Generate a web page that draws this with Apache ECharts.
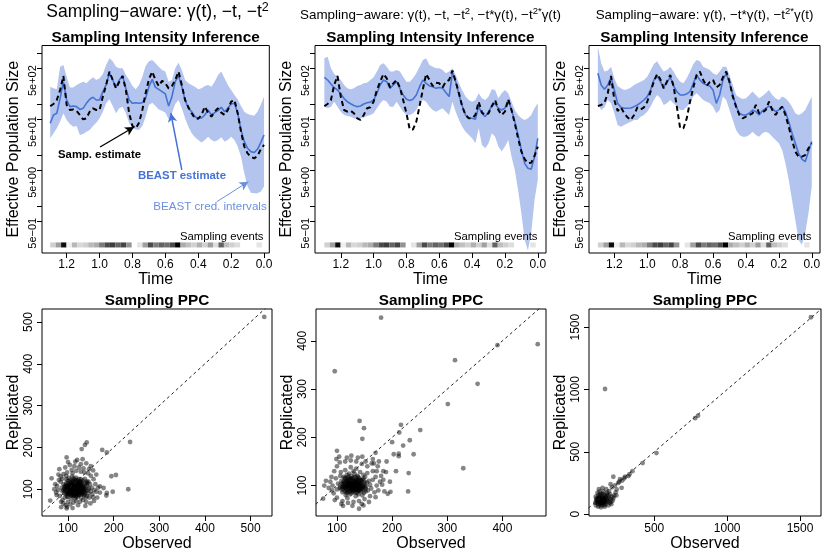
<!DOCTYPE html>
<html><head><meta charset="utf-8">
<script src="https://cdn.jsdelivr.net/npm/echarts@6.0.0/dist/echarts.min.js"></script>
<style>html,body{margin:0;padding:0;background:#fff}#c{width:830px;height:554px}</style>
</head><body><div id="c"></div>
<script>
// ---------------- DATA ----------------
const timeGrid = [1.30,1.28,1.26,1.24,1.22,1.20,1.18,1.16,1.14,1.12,1.10,1.08,1.06,1.04,1.02,1.00,0.98,0.96,0.94,0.92,0.90,0.88,0.86,0.84,0.82,0.80,0.78,0.76,0.74,0.72,0.70,0.68,0.66,0.64,0.62,0.60,0.58,0.56,0.54,0.52,0.50,0.48,0.46,0.44,0.42,0.40,0.38,0.36,0.34,0.32,0.30,0.28,0.26,0.24,0.22,0.20,0.18,0.16,0.14,0.12,0.10,0.08,0.06,0.04,0.02,0.00];

const p1Median = [42.1,61.4,66.2,131,277,121,89.5,92,89.5,79,83,104,125,137,121,121,177,239,418,299,214,299,359,205,121,104,107,104,107,131,221,308,214,196,177,159,92,141,277,359,221,121,83,71.4,56.9,52.8,53.5,61.4,76.9,61.4,68.3,74.6,86.9,71.4,83,101,104,66.2,31.1,18.4,13.6,11.7,11.2,13.0,17.6,24.8];
const p1Samp = [92,101,121,190,359,96.6,76.9,79,74.6,61.4,50.5,52.8,71.4,83,76.9,76.9,141,239,437,299,205,277,359,190,66.2,37.3,33.6,43.4,76.9,164,308,437,299,228,290,257,205,228,299,437,239,121,86.9,66.2,52.8,52,61.4,89.5,68.3,56.9,71.4,83,68.3,61.4,76.9,112,121,66.2,28.9,14.7,10.8,9.3,8.6,9.6,13.0,15.8];
const p1Upper = [221,205,196,547,590,348,214,214,239,257,277,257,299,337,299,323,393,590,798,700,547,509,509,375,299,228,196,239,348,563,700,740,635,547,471,437,277,299,509,650,471,299,257,239,221,196,205,228,239,221,277,375,437,323,239,190,152,125,92,71.4,64,61.4,59,71.4,96.6,141];
const p1Lower = [21.4,26.8,33.6,45.4,66.2,49,40.8,36.2,37.3,24.8,25.9,28.9,31.1,37.3,43.4,52.8,71.4,104,125,92,66.2,83,89.5,66.2,42.1,34.6,32,31.1,37.3,56.9,96.6,107,92,79,74.6,68.3,50.5,66.2,101,121,83,52.8,36.2,26.8,22.3,19.8,17.6,19.8,23,19.8,18.4,19.8,22.3,18.4,19.8,23,19.8,14.7,9.3,4.39,2.4,1.82,1.77,1.77,1.9,2.4];

const p2Median = [338,299,250,211,190,159,129,112,102,94,89.5,92,101,107,110,121,164,239,299,277,205,239,277,205,152,125,118,125,152,221,299,257,228,221,205,214,205,169,141,418,277,152,92,61.4,52.8,52.8,50.5,89.5,66.2,56.9,71.4,92,104,83,76.9,83,121,76.9,45.4,24.8,12.6,6.89,5.5,5.25,9.3,21.4];
const p2Samp = [92,101,121,239,359,141,76.9,71.4,74.6,66.2,52.8,49,61.4,83,86.9,112,190,277,393,323,214,257,299,214,121,66.2,32,32,45.4,92,196,393,299,228,265,257,214,277,299,458,277,164,89.5,61.4,52.8,52.8,61.4,112,68.3,61.4,66.2,92,121,76.9,61.4,71.4,125,76.9,42.1,21.4,11.7,8.3,6.9,7.1,9.6,14.7];
const p2Upper = [798,860,509,393,348,299,239,205,196,205,228,239,257,265,299,337,437,590,635,547,437,437,471,437,348,277,277,323,405,547,740,798,590,547,509,509,471,405,437,509,375,257,185,141,121,112,121,164,131,121,141,196,190,131,164,190,164,112,76.9,61.4,52.8,49,52.8,61.4,83,104];
const p2Lower = [89.5,83,89.5,112,89.5,71.4,61.4,58.7,56.9,52.8,50.5,52.8,55.2,58.7,61.4,66.2,83,104,121,112,89.5,89.5,112,89.5,71.4,61.4,61.4,66.2,76.9,104,121,112,89.5,76.9,71.4,76.9,83,71.4,61.4,112,71.4,49,36.2,28.9,24.8,21.4,17,33.6,15.8,13.6,17,26.8,23,14.7,11.7,14.7,19.8,9.3,5.1,2.06,0.72,0.215,0.133,0.29,1.31,3.24];

const p3Median = [405,239,196,239,337,190,104,86.9,83,83,84.2,89.5,96.6,107,121,141,190,299,359,277,214,277,337,228,177,152,152,159,177,257,375,299,257,239,228,190,104,152,299,405,265,152,92,66.2,61.4,61.4,66.2,76.9,71.4,61.4,74.6,83,92,83,71.4,76.9,89.5,71.4,45.4,26.8,17,10.8,8.3,7.4,11.7,18.4];
const p3Samp = [92,96.6,107,164,359,121,73.5,86.9,66.2,55.2,49,61.4,86.9,79,86.9,112,177,277,393,308,205,277,375,228,89.5,33.6,33.6,52.8,112,214,375,437,299,228,272,299,214,239,337,437,277,141,89.5,61.4,52.8,56.9,61.4,66.2,96.6,66.2,68.3,76.9,112,76.9,61.4,76.9,89.5,61.4,36.2,19.8,11.7,9.3,9.3,10,13.6,17];
const p3Upper = [1352,635,437,458,547,323,228,205,190,196,214,239,257,277,299,348,458,615,700,547,437,471,547,437,337,277,257,323,437,615,740,700,547,509,471,405,375,437,547,547,375,239,152,135,127,131,152,177,152,131,145,164,190,152,131,121,141,131,112,89.5,66.2,61.4,66.2,76.9,104,141];
const p3Lower = [104,76.9,86.9,121,104,66.2,39.1,36.2,39.1,42.1,45.4,49,49,56.9,61.4,71.4,89.5,121,152,131,96.6,104,121,104,89.5,76.9,76.9,89.5,104,141,164,141,121,112,104,89.5,66.2,76.9,141,121,76.9,49,31.1,24.8,23,23,24.8,28.9,24.8,23,26.8,28.9,26.8,23,19.8,17,12.6,6.89,3.24,1.31,0.53,0.215,0.172,0.29,0.72,2.4];

// sampling-event intensity per time bin (bins start at 1.30, width 0.033, going to 0)
const samplingStart = 1.30;
const samplingBinWidth = 0.033;
const samplingIntensity = [0.15,0.35,0.95,0.03,0.25,0.12,0.15,0.25,0.3,0.5,0.7,0.75,0.6,0.72,0.4,0,0.07,0.35,0.7,0.5,0.6,0.55,0.7,1.0,0.3,0.22,0.15,0.28,0.15,0.35,0.1,0.6,0.22,0.15,0.1,0,0,0,0.07,0];

const timeTicks = [0,0.2,0.4,0.6,0.8,1.0,1.2];
const neTicks = [0.5,1,5,10,50,100,500,1000];
const neLabelValues = [0.5,5,50,500];
const neLabelTexts = ['5e\u221201','5e+00','5e+01','5e+02'];

// PPC scatter: [observed, replicated]
const ppc1 = [
[88,95],[92,101],[95,88],[97,110],[99,97],[101,104],[103,92],[104,118],[106,99],[107,86],
[108,108],[109,95],[110,102],[111,114],[112,90],[113,100],[114,123],[115,96],[116,107],[117,84],
[118,111],[119,99],[120,93],[121,116],[122,103],[123,88],[124,108],[125,97],[126,119],[127,91],
[128,104],[130,99],[131,112],[133,94],[134,106],[136,101],[138,115],[140,96],[142,108],[144,90],
[90,112],[93,80],[96,124],[98,90],[100,82],[102,127],[105,110],[107,76],[109,130],[111,84],
[113,109],[115,78],[117,128],[119,105],[121,82],[123,125],[125,86],[127,112],[129,79],[132,121],
[135,85],[137,125],[139,80],[141,119],[146,102],[148,112],[150,95],[152,104],[86,103],[84,118],
[100,114],[104,100],[108,92],[112,118],[116,98],[120,121],[124,94],[128,117],[103,106],[118,89],
[94,96],[106,105],[111,97],[114,88],[122,96],[126,106],[131,89],[98,104],[109,118],[119,114],
[101,98],[105,93],[109,103],[113,94],[117,101],[121,99],[125,103],[129,96],[104,111],[108,87],
[112,106],[116,113],[120,88],[124,115],[96,99],[100,107],[103,95],[107,115],[110,91],[114,101],
[118,94],[122,110],[126,92],[130,106],[95,106],[99,120],[102,88],[106,102],[110,109],[114,97],
[118,118],[122,91],[126,113],[130,103],[134,97],[92,91],[97,103],[101,93],[105,98],[109,111],
[113,86],[117,96],[121,106],[125,94],[129,109],[133,100],[137,92],[115,110],[111,99],[107,96],
[100,100],[104,104],[108,98],[112,102],[116,95],[120,104],[124,100],[128,93],[132,108],[136,96],
[98,94],[102,110],[106,90],[110,106],[114,92],[118,106],[122,98],[126,110],[130,92],[134,104],
[96,114],[100,88],[104,122],[108,84],[112,126],[116,88],[120,112],[124,86],[128,124],[132,88],
[94,108],[98,82],[102,100],[106,94],[110,120],[114,108],[118,82],[122,120],[126,102],[130,118],
[138,104],[140,112],[136,88],[92,106],[90,98],[144,98],[142,116],[116,120],[106,112],[120,96],
[78,98],[80,122],[82,84],[76,108],[74,92],[79,135],[85,70],[90,66],[95,62],[100,70],
[105,64],[112,68],[118,72],[126,70],[133,74],[140,70],[147,80],[153,88],[158,98],[160,112],
[156,124],[150,132],[144,138],[136,140],[128,142],[118,144],[108,146],[98,140],[90,136],[84,130],
[94,152],[104,158],[114,155],[124,152],[134,150],[146,148],[162,135],[166,104],[170,92],[164,80],
[157,72],[149,66],[138,60],[122,62],[98,58],[88,74],[72,112],[70,100],[75,86],[81,148],
[128,160],[140,162],[116,166],[132,172],[155,145],[145,118],[142,84],[110,138],[96,132],[87,125],
[530,512],[236,213],[232,100],[205,134],[185,188],[175,194],[141,212],[137,206],[97,176],[130,196],
[195,131],[185,91],[198,94],[184,85],[170,107],[64,126],[61,73],[97,54],[110,55],[85,57],
[178,103],[162,94],[155,81],[120,170],[100,165],[150,155]];
const ppc2 = [
[105,95],[110,102],[114,88],[118,110],[120,97],[123,105],[125,92],[127,115],[129,100],[131,86],
[133,108],[135,96],[137,120],[139,90],[141,104],[143,112],[145,94],[147,100],[149,85],[151,118],
[112,118],[116,80],[122,125],[126,84],[130,130],[134,78],[138,105],[142,128],[146,80],[150,108],
[108,110],[113,97],[117,90],[121,113],[124,99],[128,92],[132,118],[136,102],[140,95],[144,110],
[102,104],[106,120],[110,86],[119,74],[123,88],[127,104],[131,96],[135,114],[139,82],[148,122],
[153,98],[156,90],[158,110],[160,102],[115,132],[125,138],[135,135],[100,92],[98,115],[155,126],
[107,128],[118,122],[129,110],[140,116],[152,88],[162,94],[165,112],[111,93],[120,106],[133,91],
[115,104],[126,96],[137,99],[144,88],[118,98],[130,104],[142,96],[124,112],
[115,96],[119,103],[123,94],[127,101],[131,108],[135,99],[139,104],[143,97],[117,112],[121,88],
[125,108],[129,116],[133,92],[137,110],[141,89],[113,106],[117,99],[121,92],[125,114],[129,97],
[133,103],[137,85],[141,112],[145,103],[120,118],[124,82],[128,106],[132,124],[136,93],[140,100],
[110,97],[114,115],[118,87],[122,101],[126,99],[130,91],[134,110],[138,96],[142,104],[146,95],
[112,100],[116,108],[120,100],[124,104],[128,98],[132,100],[136,106],[150,98],[154,106],[148,92],
[120,102],[124,96],[128,104],[132,96],[136,112],[140,92],[144,106],[116,94],[112,108],[122,116],
[126,90],[130,110],[134,86],[138,118],[142,100],[146,112],[118,84],[114,96],[110,104],[126,120],
[130,98],[134,102],[138,90],[122,106],[118,100],[150,104],[152,94],[106,98],[108,92],[148,114],
[127,95],[131,101],[135,93],[123,99],[119,108],[115,116],[139,108],[143,92],[147,98],[129,88],
[92,100],[90,118],[95,130],[100,140],[105,148],[115,150],[125,152],[135,150],[145,145],[155,140],
[165,130],[170,118],[172,100],[168,86],[160,78],[150,72],[140,68],[130,66],[120,64],[110,68],
[100,75],[94,84],[96,70],[108,62],[128,58],[145,62],[158,66],[175,90],[178,108],[174,140],
[88,108],[91,90],[99,155],[118,158],[138,158],[152,150],[163,146],[170,76],[180,120],[182,102],
[186,88],[184,130],[176,150],[146,160],[126,162],[104,160],[85,95],[80,110],
[180,448],[96,337],[464,393],[391,391],[314,360],[355,311],[301,269],[329,136],[141,234],[149,219],
[146,197],[216,226],[251,215],[213,210],[232,194],[200,190],[220,183],[203,165],[212,166],[212,161],
[239,165],[230,126],[229,88],[207,130],[197,87],[192,83],[184,112],[189,128],[172,130],[167,146],
[100,172],[77,100],[75,73],[140,52],[148,59],[111,58],[165,155],[170,168],[196,108],[190,150]];
const ppc3 = [
[110,100],[115,112],[120,95],[125,120],[128,105],[132,90],[135,115],[138,100],[140,128],[143,92],
[146,110],[150,102],[153,125],[156,88],[160,115],[164,100],[168,130],[172,95],[176,110],[180,120],
[112,130],[118,80],[124,140],[130,70],[136,150],[142,75],[148,140],[154,72],[160,145],[166,78],
[105,115],[108,88],[122,108],[134,96],[146,122],[158,106],[170,140],[185,100],[190,130],[195,90],
[100,105],[102,125],[116,150],[128,160],[140,165],[152,160],[174,155],[186,150],[200,120],[205,100],
[120,110],[125,100],[130,112],[135,105],[140,108],[145,100],[130,95],[135,125],[125,118],[140,118],
[120,125],[150,115],[155,105],[115,100],[125,130],[145,130],[130,85],[140,90],[150,90],[160,125],
[95,90],[98,140],[110,170],[125,180],[150,180],[175,170],[195,160],[210,140],[215,110],[205,80],
[185,70],[160,60],[135,55],[115,60],[100,70],[120,200],[145,210],[170,200],[190,185],[225,150],
[1575,1580],[162,1004],[800,790],[780,770],[515,490],[420,410],[350,345],[323,305],[294,288],[265,281],
[219,300],[253,251],[276,211],[242,198],[230,230],[260,260],[300,300],[235,175],[240,150],[220,130],
[210,215],[200,240],[330,320],[280,270]];
const ppcXTicks = [[100,200,300,400,500],[100,200,300,400],[500,1000,1500]];
const ppcYTicks = [[100,200,300,400,500],[100,200,300,400],[0,500,1000,1500]];

// annotation arrows in panel 1: [tailTime, tailNe, headTime, headNe]
const arrowSamp = [0.997, 14.4, 0.790, 35.7];
const arrowBeast = [0.500, 5.1, 0.567, 67.2];
const arrowCred = [0.2875, 1.21, 0.0954, 3.0];

// ---------------- LAYOUT / STYLE ----------------
const FONT = '"Liberation Sans", Arial, Helvetica, sans-serif';
const BLUE = '#4673d6', BAND = '#b3c4ee', BLUE_LIGHT = '#6a90e0';
const topGrids = [{left:42,width:227.3},{left:315,width:231},{left:589,width:231}];
const botGrids = [{left:42,width:230},{left:316,width:230},{left:589,width:232}];
const TOP_Y = 45.5, TOP_H = 207.5, BOT_Y = 309, BOT_H = 207;
const topXRanges = [[-0.032,1.35],[-0.05,1.357],[-0.05,1.354]];
const neRange = [0.119, 1425];
const ppcXRanges = [[43,547],[62,479],[52,1644]];
const ppcYRanges = [[36,531],[37,466],[-15,1646]];
const stripTop = 0.192, stripBottom = 0.153, stripMid = 0.171;

const panels = [
  {med:p1Median, samp:p1Samp, up:p1Upper, lo:p1Lower},
  {med:p2Median, samp:p2Samp, up:p2Upper, lo:p2Lower},
  {med:p3Median, samp:p3Samp, up:p3Upper, lo:p3Lower}
];
const ppcs = [ppc1, ppc2, ppc3];

const grids = [];
topGrids.forEach(g => grids.push({left:g.left, top:TOP_Y, width:g.width, height:TOP_H, show:true, borderColor:'#000', borderWidth:1, backgroundColor:'transparent', containLabel:false, outerBoundsMode:'none'}));
botGrids.forEach(g => grids.push({left:g.left, top:BOT_Y, width:g.width, height:BOT_H, show:true, borderColor:'#000', borderWidth:1, backgroundColor:'transparent', containLabel:false, outerBoundsMode:'none'}));

function neLabel(v) {
  let idx = neLabelValues.findIndex(x => Math.abs(x - v) < 1e-6 * x);
  if (idx < 0) idx = neLabelValues.findIndex(x => Math.abs(Math.log10(x) - v) < 1e-6);
  return idx >= 0 ? neLabelTexts[idx] : '';
}

const tickStyle = {show:true, length:5, inside:false, lineStyle:{color:'#000', width:1}};
const noLine = {show:false, onZero:false};
const xAxes = [], yAxes = [];
for (let k = 0; k < 3; k++) {
  xAxes.push({type:'value', gridIndex:k, position:'bottom', inverse:true, min:topXRanges[k][0], max:topXRanges[k][1],
    axisLine:noLine, splitLine:{show:false},
    axisTick:Object.assign({customValues:timeTicks}, tickStyle),
    axisLabel:{customValues:timeTicks, formatter:v => Number(v).toFixed(1), color:'#000', fontFamily:FONT, fontSize:12, margin:6},
    name:'Time', nameLocation:'middle', nameGap:16, nameTextStyle:{color:'#000', fontFamily:FONT, fontSize:16}});
  yAxes.push({type:'log', logBase:10, gridIndex:k, position:'left', min:neRange[0], max:neRange[1],
    axisLine:noLine, splitLine:{show:false}, minorTick:{show:false},
    axisTick:Object.assign({customValues:neTicks}, tickStyle),
    axisLabel:{show:true, customValues:neLabelValues, formatter:neLabel, rotate:90, margin:4, padding:[0,24,0,0], color:'#000', fontFamily:FONT, fontSize:11},
    name:'Effective Population Size', nameLocation:'middle', nameGap:20, nameTextStyle:{color:'#000', fontFamily:FONT, fontSize:16}});
}
for (let k = 0; k < 3; k++) {
  xAxes.push({type:'value', gridIndex:3+k, position:'bottom', min:ppcXRanges[k][0], max:ppcXRanges[k][1],
    axisLine:noLine, splitLine:{show:false},
    axisTick:Object.assign({customValues:ppcXTicks[k]}, tickStyle),
    axisLabel:{customValues:ppcXTicks[k], formatter:v => String(v), color:'#000', fontFamily:FONT, fontSize:12, margin:7},
    name:'Observed', nameLocation:'middle', nameGap:20, nameTextStyle:{color:'#000', fontFamily:FONT, fontSize:16}});
  yAxes.push({type:'value', gridIndex:3+k, position:'left', min:ppcYRanges[k][0], max:ppcYRanges[k][1],
    axisLine:noLine, splitLine:{show:false},
    axisTick:Object.assign({customValues:ppcYTicks[k]}, tickStyle),
    axisLabel:{customValues:ppcYTicks[k], formatter:v => String(v), rotate:90, color:'#000', fontFamily:FONT, fontSize:12, margin:7},
    name:'Replicated', nameLocation:'middle', nameGap:20, nameTextStyle:{color:'#000', fontFamily:FONT, fontSize:16}});
}

function gray(v){ const l = Math.round(245*(1-v)); return 'rgb('+l+','+l+','+l+')'; }

const series = [];
panels.forEach((p, k) => {
  series.push({type:'custom', xAxisIndex:k, yAxisIndex:k, silent:true, z:1,
    data: samplingIntensity.map((v, i) => [samplingStart - (i + 0.5) * samplingBinWidth, stripMid]),
    renderItem: (params, api) => {
      const v = samplingIntensity[params.dataIndex];
      if (v <= 0) return null;
      const t0 = samplingStart - params.dataIndex * samplingBinWidth;
      const a = api.coord([t0, stripTop]);
      const b = api.coord([t0 - samplingBinWidth, stripBottom]);
      return {type:'rect', shape:{x:Math.min(a[0],b[0]), y:Math.min(a[1],b[1]), width:Math.abs(b[0]-a[0]), height:Math.abs(b[1]-a[1])}, style:{fill:gray(v)}};
    }});
  series.push({type:'custom', xAxisIndex:k, yAxisIndex:k, silent:true, z:2, clip:true,
    data: timeGrid.map((t, i) => [t, p.up[i]]),
    renderItem: (params, api) => {
      if (params.dataIndex !== 0) return null;
      const pts = [];
      for (let i = 0; i < timeGrid.length; i++) pts.push(api.coord([timeGrid[i], p.up[i]]));
      for (let i = timeGrid.length - 1; i >= 0; i--) pts.push(api.coord([timeGrid[i], p.lo[i]]));
      return {type:'polygon', shape:{points:pts}, style:{fill:BAND}};
    }});
  const med = {type:'line', xAxisIndex:k, yAxisIndex:k, silent:true, z:3, symbol:'none', showSymbol:false,
    data: timeGrid.map((t, i) => [t, p.med[i]]), lineStyle:{color:BLUE, width:1.6}};
  if (k === 0) {
    med.markLine = {silent:true, symbol:['none','arrow'], symbolSize:[7,9], label:{show:false}, animation:false,
      data:[
        [{coord:[arrowSamp[0], arrowSamp[1]], lineStyle:{color:'#000', width:1.3, type:'solid'}, itemStyle:{color:'#000'}}, {coord:[arrowSamp[2], arrowSamp[3]]}],
        [{coord:[arrowBeast[0], arrowBeast[1]], lineStyle:{color:BLUE, width:1.5, type:'solid'}, itemStyle:{color:BLUE}}, {coord:[arrowBeast[2], arrowBeast[3]]}],
        [{coord:[arrowCred[0], arrowCred[1]], lineStyle:{color:BLUE_LIGHT, width:1, type:'solid'}, itemStyle:{color:BLUE_LIGHT}}, {coord:[arrowCred[2], arrowCred[3]]}]
      ]};
  }
  series.push(med);
  series.push({type:'line', xAxisIndex:k, yAxisIndex:k, silent:true, z:4, symbol:'none', showSymbol:false,
    data: timeGrid.map((t, i) => [t, p.samp[i]]), lineStyle:{color:'#000', width:2, type:[5,3.5]}});
});
ppcs.forEach((d, k) => {
  series.push({type:'scatter', xAxisIndex:3+k, yAxisIndex:3+k, silent:true, z:2, symbolSize:4.8,
    data:d, itemStyle:{color:'rgba(0,0,0,0.6)'}});
  const lo = Math.min(ppcXRanges[k][0], ppcYRanges[k][0]), hi = Math.max(ppcXRanges[k][1], ppcYRanges[k][1]);
  series.push({type:'line', xAxisIndex:3+k, yAxisIndex:3+k, silent:true, z:3, symbol:'none', clip:true,
    data:[[lo, lo],[hi, hi]], lineStyle:{color:'#222', width:1, type:[3,3]}});
});

function txt(x, y, text, size, opts) {
  opts = opts || {};
  return {type:'text', x:x, y:y, silent:true, z:100,
    style:Object.assign({text:text, fill:opts.fill || '#000', fontFamily:FONT, fontSize:size, fontWeight:opts.bold ? 'bold' : 'normal', align:opts.align || 'center', verticalAlign:'middle'}, opts.extra || {})};
}
const supRich = (fs) => ({sup:{fontSize:fs, fontFamily:FONT, fill:'#000', verticalAlign:'top', lineHeight:fs}});

const graphics = [
  txt(157.5, 12, 'Sampling\u2212aware: \u03b3(t), \u2212t, \u2212t{sup|2}', 17.5, {extra:{rich:supRich(12.5), lineHeight:22}}),
  txt(430.5, 15, 'Sampling\u2212aware: \u03b3(t), \u2212t, \u2212t{sup|2}, \u2212t*\u03b3(t), \u2212t{sup|2*}\u03b3(t)', 13.4, {extra:{rich:supRich(9.5), lineHeight:17}}),
  txt(704.5, 15, 'Sampling\u2212aware: \u03b3(t), \u2212t*\u03b3(t), \u2212t{sup|2*}\u03b3(t)', 13.4, {extra:{rich:supRich(9.5), lineHeight:17}}),
  txt(155.6, 37.5, 'Sampling Intensity Inference', 15.3, {bold:true}),
  txt(430.5, 37.5, 'Sampling Intensity Inference', 15.3, {bold:true}),
  txt(704.5, 37.5, 'Sampling Intensity Inference', 15.3, {bold:true}),
  txt(157, 300.5, 'Sampling PPC', 15.3, {bold:true}),
  txt(431, 300.5, 'Sampling PPC', 15.3, {bold:true}),
  txt(705, 300.5, 'Sampling PPC', 15.3, {bold:true}),
  txt(263.5, 236.5, 'Sampling events', 11.3, {align:'right'}),
  txt(537.5, 236.5, 'Sampling events', 11.3, {align:'right'}),
  txt(811.5, 236.5, 'Sampling events', 11.3, {align:'right'}),
  txt(99.5, 155, 'Samp. estimate', 11.3, {bold:true}),
  txt(182, 175.5, 'BEAST estimate', 11.4, {bold:true, fill:BLUE}),
  txt(210, 207, 'BEAST cred. intervals', 11.6, {fill:BLUE_LIGHT})
];

const chart = echarts.init(document.getElementById('c'), null, {renderer:'canvas'});
chart.setOption({
  animation:false,
  backgroundColor:'#fff',
  grid:grids, xAxis:xAxes, yAxis:yAxes, series:series, graphic:graphics
});
</script></body></html>
